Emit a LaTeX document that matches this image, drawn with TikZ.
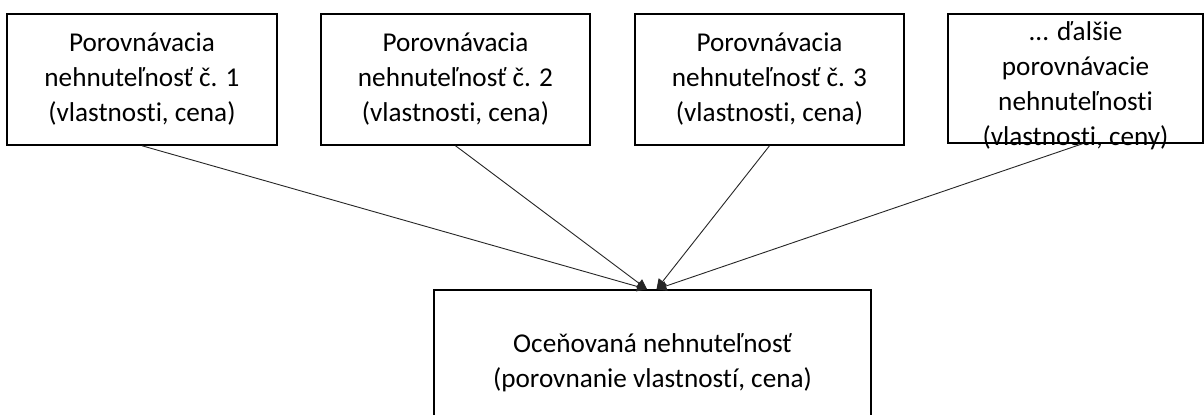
\documentclass[tikz,border=0pt]{standalone}
\usepackage{fontspec}
\setmainfont{Carlito}[Ligatures=CommonOff]
\usetikzlibrary{arrows.meta}
\tikzset{
  box/.style={draw=black, line width=0.75pt, fill=white, inner sep=0pt, align=center,
    font=\fontsize{13.6pt}{17.5pt}\selectfont},
  txt/.style={inner sep=0pt, align=center, font=\fontsize{13.6pt}{17.5pt}\selectfont},
  conn/.style={draw=black!85, line width=0.45pt, -{Triangle[length=5pt,width=5pt]}}
}
\begin{document}
\begin{tikzpicture}[x=0.5pt, y=-0.5pt]
\clip (0,0) rectangle (1204,414);
\fill[white] (0,0) rectangle (1204,414);
\node[box, minimum width=135pt, minimum height=65.5pt] (b1) at (142,79.5)
  {Porovnávacia\\nehnuteľnosť č. 1\\(vlastnosti, cena)};
\node[box, minimum width=134.5pt, minimum height=65.5pt] (b2) at (455.5,79.5)
  {Porovnávacia\\nehnuteľnosť č. 2\\(vlastnosti, cena)};
\node[box, minimum width=134.5pt, minimum height=65.5pt] (b3) at (769.5,79.5)
  {Porovnávacia\\nehnuteľnosť č. 3\\(vlastnosti, cena)};
\node[box, minimum width=127.5pt, minimum height=64.5pt,
  label={[txt, yshift=-3.75pt]center:{... ďalšie\\porovnávacie\\nehnuteľnosti\\(vlastnosti, ceny)}}] (b4) at (1075.5,78.5) {};
\node[box, minimum width=218.5pt, minimum height=73pt] (t) at (652.5,363)
  {Oceňovaná nehnuteľnosť\\(porovnanie vlastností, cena)};
\draw[conn] (b1.south) -- ([xshift=-2.75pt]t.north);
\draw[conn] (b2.south) -- ([xshift=-2.75pt]t.north);
\draw[conn] (b3.south) -- ([xshift=2pt]t.north);
\draw[conn] ([xshift=3.5pt]b4.south) -- ([xshift=2pt]t.north);
\end{tikzpicture}
\end{document}
